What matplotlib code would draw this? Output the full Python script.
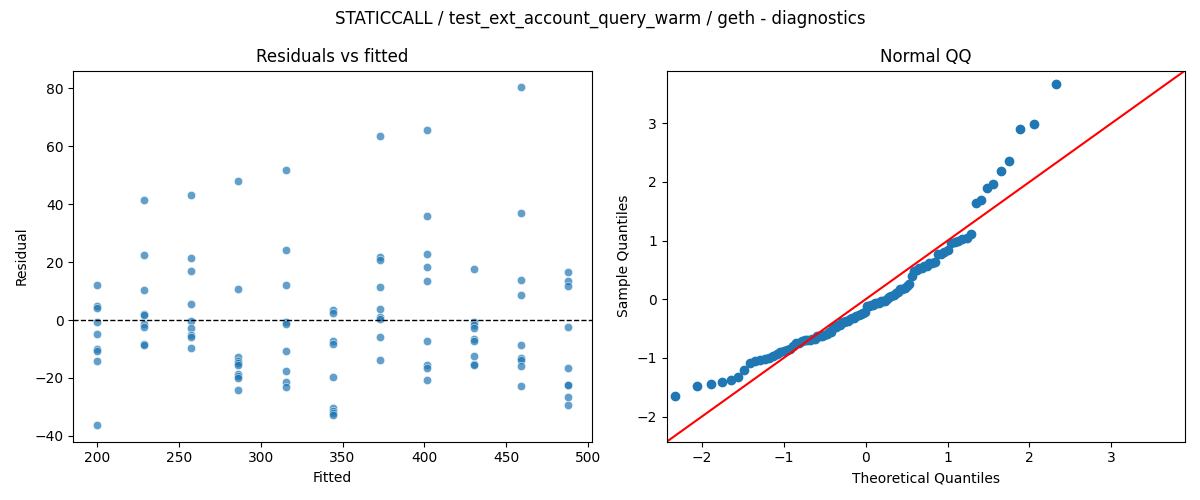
import numpy as np
import matplotlib
matplotlib.use('Agg')
import matplotlib.pyplot as plt
import seaborn as sns
from statistics import NormalDist

# Gefittete Werte (eine Spalte pro Stufe)
fitted_levels = [200.0, 228.8, 257.5, 286.3, 315.3, 344.1, 372.9, 401.6, 430.3, 459.1, 487.8]

# Residuen pro Spalte
res_0 = [12.1, 4.7, 4.0, -0.8, -4.8, -9.9, -10.7, -14.1, -36.2]
res_1 = [41.4, 22.4, 10.3, 2.2, 1.6, -1.5, -2.5, -8.2, -8.7]
res_2 = [43.1, 21.4, 16.9, 5.5, -0.2, -2.8, -5.3, -5.7, -9.7]
res_3 = [47.9, 10.7, -12.6, -14.0, -15.0, -15.6, -18.6, -19.3, -20.0, -24.1]
res_4 = [51.7, 24.1, 12.1, -0.7, -1.4, -10.7, -17.6, -21.3, -23.2]
res_5 = [3.6, 2.5, -7.1, -8.2, -19.7, -30.4, -31.3, -32.0, -32.7]
res_6 = [63.4, 21.6, 20.8, 11.4, 3.8, 1.2, 0.5, -5.9, -13.8]
res_7 = [65.5, 35.9, 22.8, 18.3, 13.4, -7.2, -15.6, -16.6, -20.7]
res_8 = [17.6, -0.8, -1.7, -2.8, -6.4, -7.4, -12.4, -15.1, -15.6]
res_9 = [80.3, 36.9, 13.9, 8.6, -8.6, -13.1, -13.7, -15.9, -22.8]
res_10 = [16.6, 13.4, 11.7, -2.4, -16.6, -22.3, -22.6, -26.6, -29.3]

residual_columns = [res_0, res_1, res_2, res_3, res_4, res_5,
                    res_6, res_7, res_8, res_9, res_10]

title = 'STATICCALL / test_ext_account_query_warm / geth - diagnostics'


def draw_diagnostics():
    # Daten zusammensetzen
    fitted = []
    resid = []
    for lvl, col in zip(fitted_levels, residual_columns):
        fitted += [lvl] * len(col)
        resid += col
    fitted = np.array(fitted)
    resid = np.array(resid)

    # QQ: standardisierte Residuen gegen Normal-Quantile
    n = len(resid)
    sample_q = (np.sort(resid) - resid.mean()) / resid.std()
    theo_q = np.array([NormalDist().inv_cdf(i / (n + 1)) for i in range(1, n + 1)])

    fig, (ax1, ax2) = plt.subplots(1, 2, figsize=(12, 5))

    # Residuen vs gefittet
    sns.scatterplot(x=fitted, y=resid, ax=ax1, alpha=0.7)
    ax1.axhline(0, color='black', linestyle='--', linewidth=1)
    ax1.set_title('Residuals vs fitted')
    ax1.set_xlabel('Fitted')
    ax1.set_ylabel('Residual')

    # Normal QQ
    ax2.plot(theo_q, sample_q, marker='o', linestyle='none',
             markerfacecolor='C0', markeredgecolor='C0')
    lims = (-2.43, 3.90)
    ax2.plot(lims, lims, color='red')
    ax2.set_xlim(lims)
    ax2.set_ylim(lims)
    ax2.set_title('Normal QQ')
    ax2.set_xlabel('Theoretical Quantiles')
    ax2.set_ylabel('Sample Quantiles')

    fig.suptitle(title)
    fig.tight_layout()
    fig.savefig('out.png', dpi=100)


if __name__ == "__main__":
    draw_diagnostics()
